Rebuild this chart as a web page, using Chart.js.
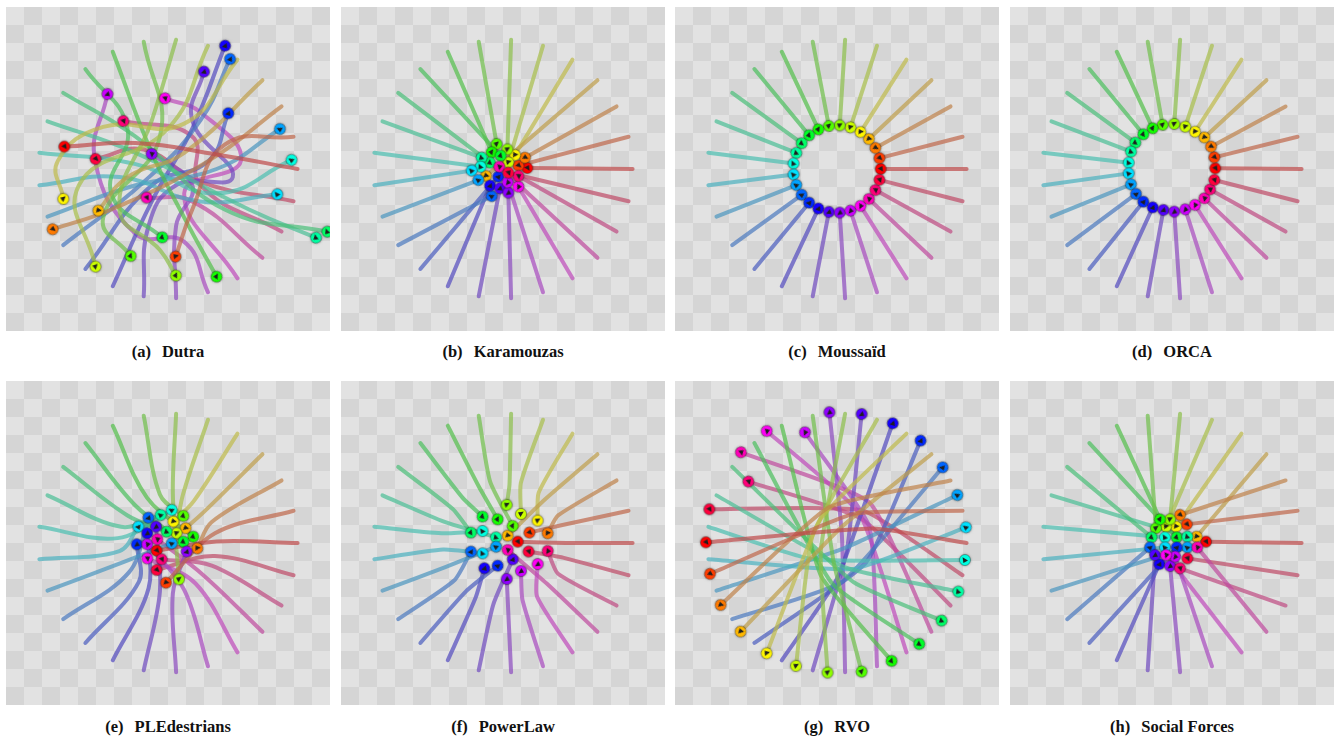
<!DOCTYPE html>
<html>
<head>
<meta charset="utf-8">
<script src="https://cdn.jsdelivr.net/npm/chart.js@4.4.0/dist/chart.umd.min.js"></script>
<style>
body { margin: 0; background: #fff; width: 1336px; height: 740px; position: relative; overflow: hidden; }
canvas.panel { position: absolute; }
.cap { position: absolute; width: 324px; text-align: center; font-family: "Liberation Serif", "DejaVu Serif", serif; font-weight: bold; font-size: 16.5px; line-height: 20px; color: #111; }
.cap span { margin-right: 7px; }
</style>
</head>
<body>
<script>
// 25 agents on a circle, hue follows start angle
const agentHue = [0, 14.4, 28.8, 43.2, 57.6, 72, 86.4, 100.8, 115.2, 129.6, 144, 158.4, 172.8,
    187.2, 201.6, 216, 230.4, 244.8, 259.2, 273.6, 288, 302.4, 316.8, 331.2, 345.6];

const startPts = [[8.0, 0], [7.75, 1.99], [7.01, 3.86], [5.83, 5.48], [4.29, 6.75], [2.47, 7.61], [0.5, 7.98],
    [-1.5, 7.86], [-3.41, 7.24], [-5.1, 6.17], [-6.47, 4.7], [-7.44, 2.94], [-7.94, 1.0], [-7.94, -1.0],
    [-7.44, -2.94], [-6.47, -4.7], [-5.1, -6.17], [-3.41, -7.24], [-1.5, -7.86], [0.5, -7.98], [2.47, -7.61],
    [4.29, -6.75], [5.83, -5.48], [7.01, -3.86], [7.75, -1.99]];

// final agent positions per model
const dutraEnd = [[-6.4, 1.38], [0.47, -5.41], [-7.12, -3.72], [-4.3, -2.57], [-6.46, -1.85], [-4.47, -6.03],
    [0.49, -6.58], [-2.3, -5.37], [3.0, -6.65], [-0.35, -4.22], [9.84, -3.87], [9.14, -4.24], [7.63, 0.56],
    [6.75, -1.56], [6.91, 2.47], [3.83, 6.79], [3.72, 3.44], [3.52, 7.61], [2.22, 6.01], [-1.01, 0.93],
    [-3.74, 4.63], [-0.19, 4.36], [-1.32, -1.77], [-2.76, 2.96], [-4.47, 0.62]];

const dutraVia = [
    [[3.0, 0.9], [-2.0, 1.6]], [[3.5, 1.5], [1.5, -2.5]], [[2.5, 0.5], [-3.5, -2.5]], [[1.0, 1.0], [-2.5, -0.5]],
    [[1.0, 2.8], [-4.0, 2.6], [-6.8, 0.5]], [[0, 2.5], [-5.5, -1.0]], [[-1.0, 3.0], [-3.0, -2.5], [-0.5, -5.0]],
    [[-0.5, 2.0], [-4.0, -3.0]], [[-1.0, 1.0], [1.0, -3.0]], [[-2.5, 2.5], [-3.5, -1.5]], [[-2.0, 2.0], [3.5, -2.5]],
    [[-2.0, 1.0], [5.0, -2.5]], [[-2.0, 0.3], [3.0, -1.5]], [[-3.0, -0.5], [2.0, -2.0]], [[-2.0, -1.0], [3.0, 0.0]],
    [[-1.5, -0.8], [2.0, 3.0]], [[-1.0, -1.0], [2.5, 0.5]], [[-1.0, -2.0], [1.5, 2.5]],
    [[-1.2, -3.5], [0.5, -1.0], [4.0, -0.5], [1.5, 3.0]], [[0.5, -3.5], [1.5, -1.0]],
    [[1.0, -4.5], [-2.0, -4.0], [-4.5, 0.5]], [[1.0, -1.5], [4.5, 0.5], [2.0, 3.5]], [[1.5, -2.0]],
    [[2.0, -1.0], [1.5, 2.0]], [[2.0, -0.8], [-1.5, 1.2]]];

const karamouzasEnd = [[1.5, 0.06], [0.95, 0.21], [1.36, 0.7], [-1.05, -0.43], [0.74, 0.86], [0.33, 0.41],
    [0.27, 1.21], [-0.39, 1.54], [-0.7, 1.03], [-0.14, 0.82], [-0.8, 0.39], [-1.32, 0.7], [-1.38, 0.14],
    [-1.93, -0.1], [-1.52, -0.68], [-0.7, -1.67], [-0.29, -0.47], [-0.8, -1.03], [-0.19, -1.19], [0.33, -1.46],
    [0.29, -0.82], [0.95, -1.09], [-0.23, 0.14], [0.95, -0.43], [0.33, -0.23]];

const moussaidEnd = [[2.7, 0], [2.62, 0.67], [2.37, 1.3], [1.97, 1.85], [1.45, 2.28], [0.83, 2.57], [0.17, 2.69],
    [-0.5, 2.65], [-1.15, 2.44], [-1.72, 2.08], [-2.18, 1.59], [-2.51, 0.99], [-2.68, 0.34], [-2.68, -0.34],
    [-2.51, -0.99], [-2.18, -1.59], [-1.72, -2.08], [-1.15, -2.44], [-0.5, -2.65], [0.17, -2.69], [0.83, -2.57],
    [1.45, -2.28], [1.97, -1.85], [2.37, -1.3], [2.62, -0.67]];

const orcaEnd = [[2.67, 0.04], [2.61, 0.72], [2.41, 1.38], [2.0, 1.95], [1.42, 2.3], [0.82, 2.61], [0.14, 2.78],
    [-0.58, 2.72], [-1.19, 2.51], [-1.77, 2.14], [-2.26, 1.63], [-2.53, 1.07], [-2.67, 0.39], [-2.67, -0.27],
    [-2.53, -0.95], [-2.22, -1.54], [-1.77, -2.02], [-1.19, -2.37], [-0.53, -2.53], [0.14, -2.63], [0.82, -2.49],
    [1.42, -2.22], [2.0, -1.81], [2.35, -1.26], [2.61, -0.68]];

const pledEnd = [[-0.7, -0.47], [-0.12, -2.45], [1.81, -0.33], [1.09, 0.91], [0.33, 1.32], [0.53, 0.6],
    [0.68, -2.24], [0.95, 1.67], [1.56, 0.39], [0.95, 0.08], [-0.08, 0.7], [-0.45, 1.73], [0.23, 2.04],
    [-1.83, 1.01], [0.23, -0.02], [-1.21, 1.56], [-1.93, -0.08], [-1.28, 0.6], [-0.74, 1.01], [1.15, -0.53],
    [-1.28, -0.08], [-1.28, -0.95], [-0.66, 0.23], [-0.39, -1.01], [-0.7, -1.67]];

const pledVia = [[3.0, 0.1], [2.9, 0.6], [2.7, 1.3], [2.3, 2.0], [1.6, 2.6], [0.9, 2.9], [0.3, 3.0],
    [-0.5, 3.0], [-1.3, 2.8], [-2.0, 2.3], [-2.5, 1.7], [-2.9, 1.0], [-3.1, 0.3], [-3.0, -0.5],
    [-2.8, -1.2], [-2.4, -1.8], [-1.8, -2.4], [-1.2, -2.8], [-0.5, -3.0], [0.3, -3.1], [1.0, -2.9],
    [1.7, -2.5], [2.2, -2.0], [2.7, -1.4], [2.9, -0.8]];

const powerLawEnd = [[0.91, 0.08], [1.63, 0.64], [2.76, 0.6], [0.29, 0.45], [2.14, 1.38], [1.11, 1.79],
    [0.23, 2.35], [0.6, 1.05], [-0.33, 1.46], [-1.26, 1.63], [-1.98, 0.64], [-0.43, 0.35], [-1.26, 0.74],
    [-1.26, -0.64], [-0.43, -0.23], [-1.98, -0.53], [-0.33, -1.4], [-1.15, -1.56], [0.6, -1.01], [0.23, -2.22],
    [1.11, -1.73], [2.14, -1.3], [0.29, -0.43], [2.76, -0.49], [1.58, -0.53]];

const powerLawVia = [[3.9, 0.0], [3.6, 1.1], [3.4, 1.7], [2.6, 2.7], [2.2, 3.1], [1.1, 3.7], [0.4, 3.6],
    [-0.8, 3.8], [-1.5, 3.5], [-2.5, 2.8], [-3.1, 2.1], [-3.6, 1.3], [-3.8, 0.6], [-3.7, -0.4],
    [-3.6, -1.5], [-3.0, -2.3], [-2.3, -3.0], [-1.7, -3.4], [-0.6, -3.8], [0.3, -3.7], [1.2, -3.5],
    [2.1, -3.3], [2.7, -2.5], [3.4, -1.9], [3.7, -0.9]];

const rvoEnd = [[-8.09, 0.04], [-7.84, -1.91], [-7.18, -3.83], [-5.95, -5.47], [-4.34, -6.81], [-2.53, -7.59],
    [-0.58, -8.0], [1.52, -7.94], [3.37, -7.28], [5.08, -6.23], [6.46, -4.79], [7.49, -3.0], [7.9, -1.05],
    [7.96, 0.97], [7.43, 2.96], [6.52, 4.67], [5.16, 6.32], [3.44, 7.39], [1.52, 7.96], [-0.47, 8.07],
    [-1.98, 6.83], [-4.34, 6.91], [-5.93, 5.6], [-5.47, 3.79], [-7.88, 2.08]];

const rvoVia = [[2.2, 0.9], [1.0, 1.8], [-0.5, 2.2], [0.3, 1.0], [-1.0, 1.5], [-1.5, 0.5], [-1.0, -0.5],
    [-0.2, -1.2], [-1.0, -2.0], [-0.3, -2.5], [1.0, -2.4], [0.5, -1.5], [-1.5, -1.0], [1.0, -1.6], [0.5, -0.3],
    [0.3, -2.4], [1.8, -1.2], [0.0, -2.2], [0.6, -0.5], [0.3, 0.5], [2.0, 1.0], [1.4, 1.8], [2.0, 2.5],
    [1.5, 1.5], [1.6, 2.0]];

const socialEnd = [[2.1, 0.08], [0.91, 1.15], [0.49, 1.73], [1.52, 0.39], [0.25, 1.01], [-0.37, 1.01],
    [-0.12, 1.46], [-0.99, 0.91], [-0.74, 1.46], [0.29, 0.35], [-1.26, 0.35], [0.95, 0.39], [-0.43, 0.35],
    [-0.43, -0.27], [0.95, -0.27], [-1.36, -0.27], [0.29, -0.27], [-0.78, -1.3], [-1.05, -0.74], [-0.12, -1.42],
    [0.19, -0.84], [-0.37, -0.74], [1.56, -0.27], [0.49, -1.56], [0.95, -0.95]];

const modelNames = ['Dutra', 'Karamouzas', 'Moussaïd', 'ORCA', 'PLEdestrians', 'PowerLaw', 'RVO', 'Social Forces'];
const panelLetters = ['a', 'b', 'c', 'd', 'e', 'f', 'g', 'h'];

const panelLeft = [6, 341, 675, 1010];
const panelTop = [7, 381];
const capTop = [342, 717];

function straightPaths(ends) {
    return startPts.map((s, i) => [s, ends[i]]);
}
function viaPaths(via, ends) {
    return startPts.map((s, i) => [s, via[i], ends[i]]);
}

const modelPaths = [
    startPts.map((s, i) => [s, ...dutraVia[i], dutraEnd[i]]),
    straightPaths(karamouzasEnd),
    straightPaths(moussaidEnd),
    straightPaths(orcaEnd),
    viaPaths(pledVia, pledEnd),
    viaPaths(powerLawVia, powerLawEnd),
    viaPaths(rvoVia, rvoEnd),
    straightPaths(socialEnd)
];
const modelTension = [0.45, 0, 0, 0, 0.35, 0.2, 0.15, 0];

// checkerboard behind each panel
const checker = {
    id: 'checker',
    beforeDraw(chart) {
        const { ctx, chartArea: a } = chart;
        const n = 18, w = (a.right - a.left) / n, h = (a.bottom - a.top) / n;
        ctx.save();
        for (let r = 0; r < n; r++) {
            for (let c = 0; c < n; c++) {
                ctx.fillStyle = (r + c) % 2 ? '#d5d5d5' : '#e2e2e2';
                ctx.fillRect(a.left + c * w, a.top + r * h, w + 0.5, h + 0.5);
            }
        }
        ctx.restore();
    }
};

function agentIcon(h) {
    const c = document.createElement('canvas');
    c.width = 16; c.height = 16;
    const g = c.getContext('2d');
    g.shadowColor = 'rgba(0,0,0,0.5)';
    g.shadowBlur = 2.5;
    g.beginPath();
    g.arc(8, 8, 5.5, 0, Math.PI * 2);
    g.fillStyle = `hsl(${h},100%,50%)`;
    g.fill();
    g.shadowBlur = 0;
    g.lineWidth = 0.8;
    g.strokeStyle = 'rgba(30,30,30,0.45)';
    g.stroke();
    g.beginPath();
    g.moveTo(11, 8.4);
    g.lineTo(5.6, 5.2);
    g.lineTo(6.4, 11);
    g.closePath();
    g.fillStyle = '#1e1e1e';
    g.fill();
    return c;
}
const icons = agentHue.map(agentIcon);

function buildPanel(k) {
    const cv = document.createElement('canvas');
    cv.className = 'panel';
    cv.width = 324; cv.height = 324;
    cv.style.left = panelLeft[k % 4] + 'px';
    cv.style.top = panelTop[Math.floor(k / 4)] + 'px';
    document.body.appendChild(cv);

    const cap = document.createElement('div');
    cap.className = 'cap';
    cap.style.left = panelLeft[k % 4] + 'px';
    cap.style.top = capTop[Math.floor(k / 4)] + 'px';
    cap.innerHTML = `<span>(${panelLetters[k]})</span> ${modelNames[k]}`;
    document.body.appendChild(cap);

    const paths = modelPaths[k];
    const rot = paths.map(p => {
        const a = p[p.length - 2], b = p[p.length - 1];
        return -Math.atan2(b[1] - a[1], b[0] - a[0]) * 180 / Math.PI;
    });
    const datasets = [{
        data: paths.map(p => ({ x: p[p.length - 1][0], y: p[p.length - 1][1] })),
        pointStyle: icons,
        rotation: rot,
        order: 0
    }];
    paths.forEach((p, i) => datasets.push({
        data: p.map(([x, y]) => ({ x, y })),
        showLine: true,
        borderColor: `hsla(${agentHue[i]},48%,52%,0.7)`,
        borderWidth: 4,
        borderCapStyle: 'round',
        borderJoinStyle: 'round',
        tension: modelTension[k],
        pointRadius: 0,
        pointHoverRadius: 0,
        order: 1
    }));

    new Chart(cv, {
        type: 'scatter',
        data: { datasets },
        options: {
            responsive: false,
            animation: false,
            events: [],
            layout: { padding: 0, autoPadding: false },
            plugins: { legend: { display: false }, tooltip: { enabled: false } },
            scales: {
                x: { type: 'linear', min: -10, max: 10, display: false },
                y: { type: 'linear', min: -10, max: 10, display: false }
            }
        },
        plugins: [checker]
    });
}

window.onload = () => {
    for (let k = 0; k < 8; k++) buildPanel(k);
};
</script>
</body>
</html>
